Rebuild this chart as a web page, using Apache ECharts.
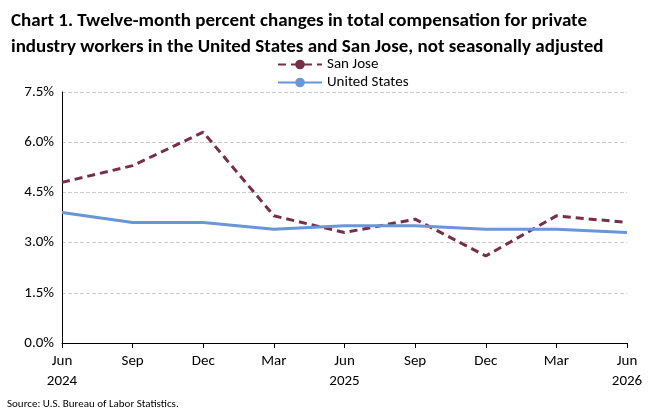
<!DOCTYPE html>
<html>
<head>
<meta charset="utf-8">
<script src="https://cdn.jsdelivr.net/npm/echarts@6/dist/echarts.min.js"></script>
<style>html,body{margin:0;padding:0;background:#fff}#chart{width:668px;height:413px}</style>
</head>
<body>
<div id="chart"></div>
<script>
var categories = ['Jun\n2024', 'Sep', 'Dec', 'Mar', 'Jun\n2025', 'Sep', 'Dec', 'Mar', 'Jun\n2026']
var sanJose = [4.8, 5.3, 6.3, 3.8, 3.3, 3.7, 2.6, 3.8, 3.6]
var unitedStates = [3.9, 3.6, 3.6, 3.4, 3.5, 3.5, 3.4, 3.4, 3.3]

var chart = echarts.init(document.getElementById('chart'))
var font = 'Calibri, Carlito, Lato, "Liberation Sans", Arial, sans-serif'
chart.setOption({
    animation: false,
    textStyle: {fontFamily: font},
    title: {
        text: 'Chart 1. Twelve-month percent changes in total compensation for private\nindustry workers in the United States and San Jose, not seasonally adjusted',
        left: 6, top: 3,
        textStyle: {fontSize: 19, fontWeight: 'bold', color: '#000', lineHeight: 26, fontFamily: font}
    },
    legend: {
        orient: 'vertical', left: 272, top: 52, itemGap: 3,
        itemWidth: 44, itemHeight: 12,
        textStyle: {fontSize: 15, color: '#000'},
        data: ['San Jose', 'United States']
    },
    graphic: [{
        type: 'text', left: 7, top: 399,
        style: {text: 'Source: U.S. Bureau of Labor Statistics.', fontSize: 11, fill: '#000', fontFamily: font}
    }],
    grid: {left: 62, right: 41, top: 92, bottom: 70},
    xAxis: {
        type: 'category', boundaryGap: false, data: categories,
        axisLine: {lineStyle: {color: '#000'}},
        axisTick: {show: true, alignWithLabel: true, lineStyle: {color: '#000'}},
        axisLabel: {fontSize: 15, color: '#000', lineHeight: 20, margin: 8}
    },
    yAxis: {
        type: 'value', min: 0, max: 7.5, interval: 1.5,
        axisLine: {show: true, lineStyle: {color: '#000'}},
        axisLabel: {fontSize: 15, color: '#000', formatter: function (v) { return v.toFixed(1) + '%' }},
        splitLine: {lineStyle: {color: '#ccc', type: 'dashed'}}
    },
    series: [
        {name: 'San Jose', type: 'line', data: sanJose, symbol: 'none',
         lineStyle: {color: '#772e47', width: 3, type: [8, 5]}, itemStyle: {color: '#772e47'}},
        {name: 'United States', type: 'line', data: unitedStates, symbol: 'none',
         lineStyle: {color: '#6896d8', width: 3}, itemStyle: {color: '#6896d8'}}
    ]
})
</script>
</body>
</html>
